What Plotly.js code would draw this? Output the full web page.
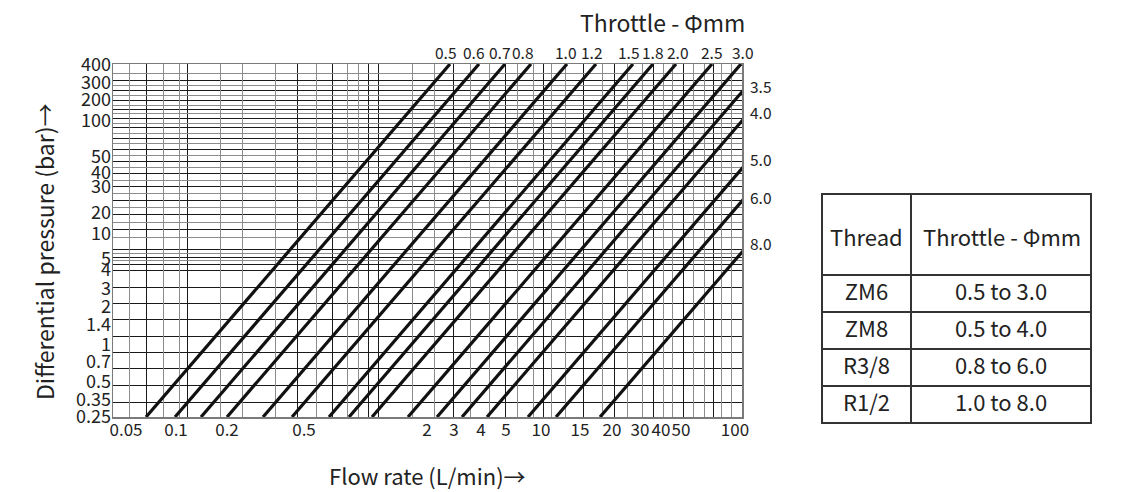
<!DOCTYPE html>
<html><head><meta charset="utf-8">
<script src="https://cdn.plot.ly/plotly-3.0.1.min.js"></script>
<style>html,body{margin:0;padding:0;background:#fff}#chart{width:1121px;height:492px}</style>
</head><body><div id="chart"></div>
<script>
// ---- Nomogram scales (the chart uses non-uniform, hand-drawn scales) ----
// Flow rate (L/min): tick labels and where they sit along the flow scale (0..629)
const xTickLabels = ['0.05','0.1','0.2','0.5','2','3','4','5','10','15','20','30','40','50','100'];
const xTickPos    = [13, 63, 114, 191, 314, 341, 368, 393, 428, 467, 499, 527, 548, 568, 622];
// Differential pressure (bar): tick labels and where they sit along the pressure scale (0..353)
const yTickLabels = ['0.25','0.35','0.5','0.7','1','1.4','2','3','4','5','10','20','30','40','50','100','200','300','400'];
const yTickPos    = [0, 17, 35, 55, 72, 92, 110, 128, 147, 158, 183, 204, 230, 244, 260, 296, 317, 334, 352];
// Grid lines of the nomogram (flow scale / pressure scale)
const xGridDark  = [33, 74, 184, 219, 255, 265, 340, 392, 430, 470, 501, 540, 570, 600];
const xGridLight = [16, 50, 66, 107, 129, 162, 203, 234, 245, 299, 321, 357, 376, 404, 420, 438, 452, 489, 514, 529, 550, 559, 580, 591, 608, 618];
const yGridDark  = [15, 32, 49, 65, 81, 98, 114, 130, 147, 153, 160, 168, 188, 203, 217, 231, 244, 256, 268, 279, 290, 299, 308, 317, 327, 337];
const yGridLight = [157, 164, 180, 195, 210, 224, 237, 250, 262, 274, 284, 294, 304, 312, 322, 332, 344];
// Throttle diameters (mm) and where each line meets the 0.25 bar bottom edge on the flow scale
const throttleSizes = ['0.5','0.6','0.7','0.8','1.0','1.2','1.5','1.8','2.0','2.5','3.0','3.5','4.0','5.0','6.0','8.0'];
const throttleStart = [33, 62, 88, 114, 150, 179, 216, 236, 259, 295, 324, 349, 374, 415, 443, 487];
const lineRun = 304;          // flow-scale run of each line over the full pressure range
const X_MAX = 629, Y_MAX = 353;
// Table
const tableHeader = ['Thread', 'Throttle - Φmm'];
const threads = ['ZM6','ZM8','R3/8','R1/2'];
const throttleRanges = ['0.5 to 3.0','0.5 to 4.0','0.8 to 6.0','1.0 to 8.0'];

// label nudges (pixels) for the throttle labels, to keep them apart as in the original
const labelNudge = [-4, -5, -5, -8, -1, -4, -4, 0, 2, 0, 2, -6, -9, -10, -4, -9];

const FONT = '"Noto Sans CJK SC", "Noto Sans", sans-serif';
const TXT = '#222';
const W = 1121, H = 492;

const lx = [], ly = [];
const ann = [];
throttleSizes.forEach((lab, i) => {
  const s = throttleStart[i];
  lx.push(s, s + lineRun, null);
  ly.push(0, Y_MAX, null);
  const topX = s + lineRun;
  if (topX <= X_MAX + 2) {
    ann.push({x: topX, y: Y_MAX, xref: 'x', yref: 'y', text: lab, showarrow: false,
      xanchor: 'center', yanchor: 'bottom', xshift: labelNudge[i], yshift: -1,
      font: {family: FONT, size: 15.5, color: TXT}});
  } else {
    const yEnd = Y_MAX * (X_MAX - s) / lineRun;
    ann.push({x: X_MAX, y: yEnd, xref: 'x', yref: 'y', text: lab, showarrow: false,
      xanchor: 'left', yanchor: 'middle', xshift: 6, yshift: -labelNudge[i],
      font: {family: FONT, size: 15.5, color: TXT}});
  }
});

ann.push({x: 662/W, y: 1 - 22/H, xref: 'paper', yref: 'paper', text: 'Throttle - Φmm',
  showarrow: false, xanchor: 'center', yanchor: 'middle', font: {family: FONT, size: 23, color: TXT}});
ann.push({x: 427/W, y: 1 - 475/H, xref: 'paper', yref: 'paper', text: 'Flow rate (L/min)→',
  showarrow: false, xanchor: 'center', yanchor: 'middle', font: {family: FONT, size: 22, color: TXT}});
ann.push({x: 44/W, y: 1 - 252/H, xref: 'paper', yref: 'paper', text: 'Differential pressure (bar)→',
  showarrow: false, textangle: -90, xanchor: 'center', yanchor: 'middle', font: {family: FONT, size: 23, color: TXT}});

// table geometry
const tblX = [822, 1092], tblTop = 194, headH = 81, rowH = 37;
const colW = [89, 180];
// header texts centred vertically in the tall header cells
let cx = tblX[0];
tableHeader.forEach((t, i) => {
  const w = (tblX[1] - tblX[0]) * colW[i] / (colW[0] + colW[1]);
  ann.push({x: (cx + w / 2) / W, y: 1 - (tblTop + headH / 2 + 1) / H, xref: 'paper', yref: 'paper',
    text: t, showarrow: false, xanchor: 'center', yanchor: 'middle',
    font: {family: FONT, size: 22, color: TXT}});
  cx += w;
});

const xDom = [113/W, 742/W];
const yDom = [75/H, 428/H];

const traces = [
  {type: 'scatter', mode: 'lines', x: lx, y: ly, xaxis: 'x', yaxis: 'y',
   line: {color: '#111', width: 3.2}, hoverinfo: 'skip', showlegend: false, connectgaps: false},
  {type: 'scatter', mode: 'lines', x: [], y: [], xaxis: 'x2', yaxis: 'y2', showlegend: false, hoverinfo: 'skip'},
  {type: 'table', domain: {x: [tblX[0]/W, tblX[1]/W], y: [60/H, 1 - tblTop/H]},
   columnwidth: colW,
   header: {values: ['', ''], height: headH, align: 'center',
            font: {family: FONT, size: 22, color: TXT}, line: {color: '#333', width: 1.2}, fill: {color: '#fff'}},
   cells: {values: [threads, throttleRanges], height: rowH, align: 'center',
           font: {family: FONT, size: 22, color: TXT}, line: {color: '#333', width: 1.2}, fill: {color: '#fff'}}}
];

const common = {zeroline: false, fixedrange: true, ticks: ''};
const layout = {
  width: W, height: H, margin: {l: 0, r: 0, t: 0, b: 0},
  paper_bgcolor: '#fff', plot_bgcolor: '#fff', showlegend: false,
  font: {family: FONT, color: TXT},
  xaxis: Object.assign({}, common, {domain: xDom, range: [0, X_MAX], anchor: 'y',
    tickmode: 'array', tickvals: xTickPos, ticktext: xTickLabels, showgrid: false, tickangle: 0,
    showline: true, mirror: true, linecolor: '#7a7a7a', linewidth: 1.5,
    tickfont: {family: FONT, size: 17, color: TXT}, ticklabelstandoff: -3,
    minor: {tickmode: 'array', tickvals: xGridDark, showgrid: true, gridcolor: '#1a1a1a', gridwidth: 1}}),
  yaxis: Object.assign({}, common, {domain: yDom, range: [0, Y_MAX], anchor: 'x',
    tickmode: 'array', tickvals: yTickPos, ticktext: yTickLabels, showgrid: false,
    showline: true, mirror: true, linecolor: '#7a7a7a', linewidth: 1.5,
    tickfont: {family: FONT, size: 18, color: TXT}, ticklabelstandoff: -3,
    minor: {tickmode: 'array', tickvals: yGridDark, showgrid: true, gridcolor: '#1a1a1a', gridwidth: 1}}),
  xaxis2: Object.assign({}, common, {domain: xDom, range: [0, X_MAX], overlaying: 'x', anchor: 'y2',
    tickmode: 'array', tickvals: xGridLight, showticklabels: false, showgrid: true,
    gridcolor: '#8c8c8c', gridwidth: 1, showline: false}),
  yaxis2: Object.assign({}, common, {domain: yDom, range: [0, Y_MAX], overlaying: 'y', anchor: 'x2',
    tickmode: 'array', tickvals: yGridLight, showticklabels: false, showgrid: true,
    gridcolor: '#8c8c8c', gridwidth: 1, showline: false}),
  annotations: ann
};

Plotly.newPlot('chart', traces, layout, {staticPlot: true, displayModeBar: false});
</script>
</body></html>
